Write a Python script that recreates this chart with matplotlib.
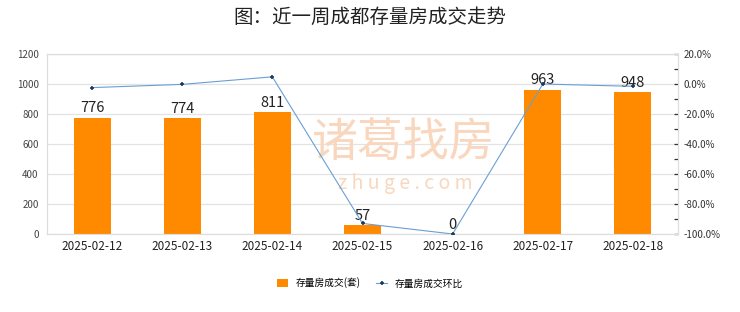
import matplotlib.pyplot as plt
from matplotlib.ticker import MultipleLocator, FuncFormatter

plt.rcParams['font.family'] = ['Noto Sans CJK SC', 'DejaVu Sans']

dates = ['2025-02-12', '2025-02-13', '2025-02-14', '2025-02-15',
         '2025-02-16', '2025-02-17', '2025-02-18']
volume = [776, 774, 811, 57, 0, 963, 948]
ratio = [-2.4, -0.26, 4.78, -92.97, -100.0, 0.0, -1.56]

fig = plt.figure(figsize=(7.4, 3.12), dpi=100)
ax = fig.add_axes([47 / 740, 1 - 234 / 312, 631 / 740, 180 / 312])
ax2 = ax.twinx()

x = range(len(dates))
bars = ax.bar(x, volume, width=0.41, color='#FF8A00', zorder=2, label='存量房成交(套)')
for xi, v in zip(x, volume):
    ax.text(xi, v + 15, str(v), ha='center', va='bottom', fontsize=10.5, color='#222222', zorder=5)

ax.set_xlim(-0.5, len(dates) - 0.5)
ax.set_ylim(0, 1200)
ax.yaxis.set_major_locator(MultipleLocator(200))
ax.set_xticks(list(x))
ax.set_xticklabels(dates, fontsize=8.5, color='#222222')
ax.tick_params(axis='y', labelsize=7, colors='#444444', length=0, pad=6)
ax.tick_params(axis='x', length=0, pad=4)
ax.grid(axis='y', color='#E3E3E3', linewidth=0.9, zorder=0)
for s in ax.spines.values():
    s.set_color('#DDDDDD')
ax.set_axisbelow(True)

# watermark, behind the bars
ax.text(404 / 740, 1 - 143 / 312, '诸葛找房', transform=fig.transFigure, ha='center',
        va='center', fontsize=33, color='#F9D7BE', zorder=1)
ax.text(405 / 740, 1 - 183 / 312, 'z h u g e . c o m', transform=fig.transFigure,
        ha='center', va='center', fontsize=14, color='#F9D7BE', zorder=1)

line, = ax2.plot(list(x), ratio, color='#6A9FD4', linewidth=0.8, marker='+',
                 markersize=3.5, markeredgecolor='#1F3A5F', markeredgewidth=1.2,
                 label='存量房成交环比', zorder=4)
ax2.set_ylim(-100, 20)
ax2.yaxis.set_major_locator(MultipleLocator(20))
ax2.yaxis.set_minor_locator(MultipleLocator(10))
ax2.yaxis.set_major_formatter(FuncFormatter(lambda v, p: '%.1f%%' % v))
ax2.tick_params(axis='y', which='both', direction='in', length=3, width=0.9,
                colors='#333333', labelsize=7, pad=4)
for s in ax2.spines.values():
    s.set_color('#DDDDDD')

fig.text(0.5, 0.945, '图：近一周成都存量房成交走势', ha='center', va='center',
         fontsize=14, fontweight='medium', color='#222222')

fig.legend(handles=[bars, line], loc='center', bbox_to_anchor=(0.5, 1 - 283 / 312),
           ncol=2, frameon=False, fontsize=7, handlelength=1.2, handleheight=0.8,
           columnspacing=1.5)

fig.savefig('out.png', dpi=100)
